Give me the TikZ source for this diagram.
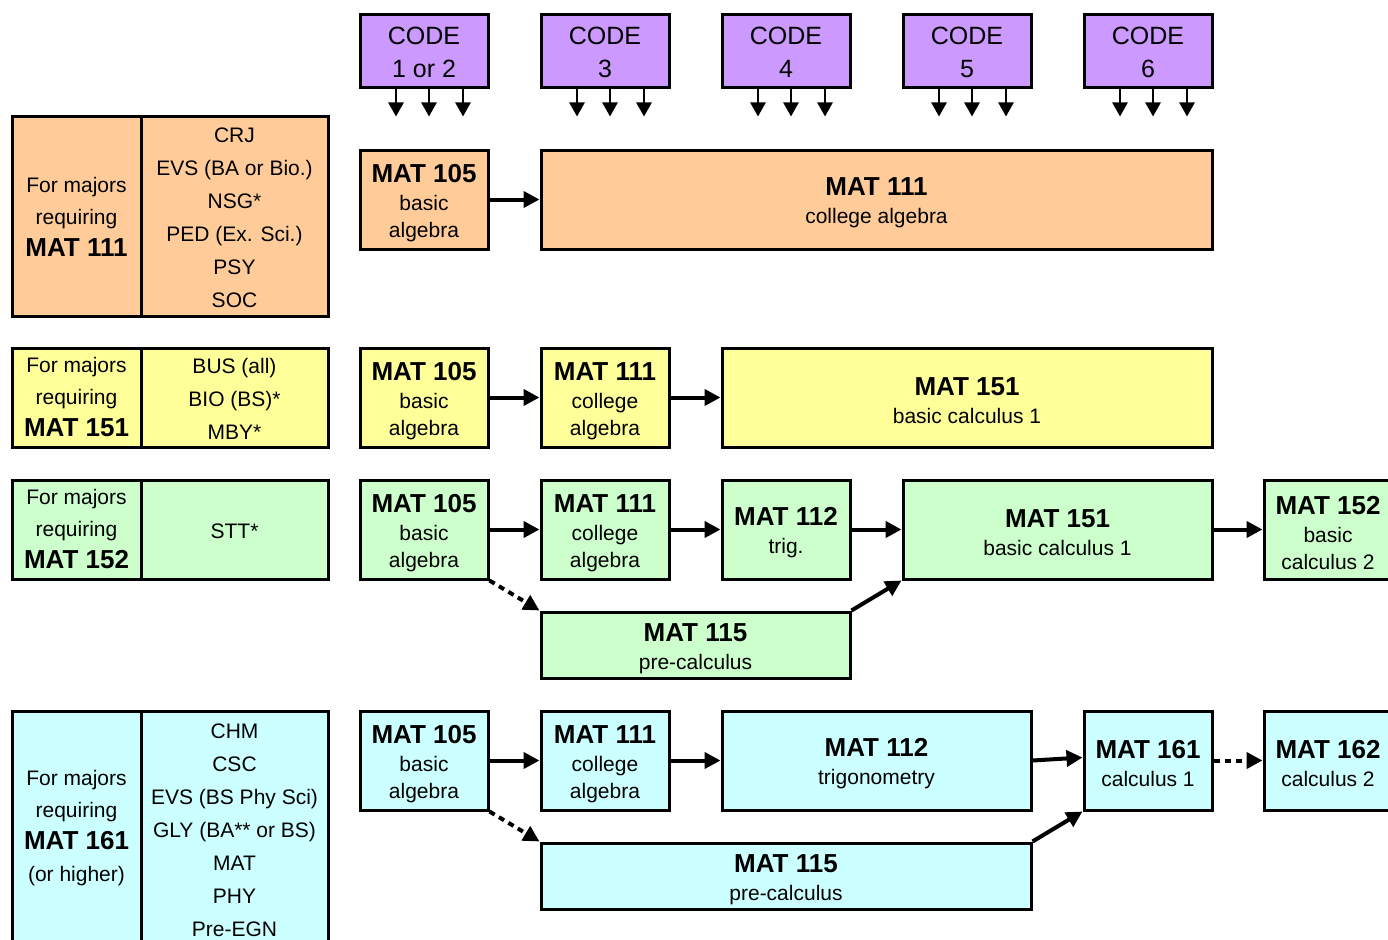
\documentclass[tikz,border=0pt]{standalone}
\usepackage{fontspec}
\setmainfont{Liberation Sans}
\usetikzlibrary{arrows.meta}
\definecolor{corange}{HTML}{FFCC99}
\definecolor{cyellow}{HTML}{FFFF99}
\definecolor{cgreen}{HTML}{CCFFCC}
\definecolor{ccyan}{HTML}{CCFFFF}
\definecolor{cpurple}{HTML}{CC99FF}
\newcommand\mb{\fontsize{26}{30}\selectfont\bfseries}
\newcommand\mkbox[8][boxtext]{%
  \node[cell, fill=#7, minimum width={#5-#3}, minimum height={#6-#4}] (#2) at ({(#3+#5)/2},{(#4+#6)/2}) {};
  \node[#1] (#2-t) at (#2.center) {#8};}
\begin{document}
\begin{tikzpicture}[x=1pt,y=-1pt,
  cell/.style={draw=black, line width=3pt, inner sep=0pt},
  boxtext/.style={inner sep=0pt, align=center, yshift=-3.5pt, font=\fontsize{21}{27}\selectfont},
  codetext/.style={inner sep=0pt, align=center, yshift=-1pt, font=\fontsize{25}{33}\selectfont},
  lefttext/.style={inner sep=0pt, align=center, font=\fontsize{21}{32}\selectfont},
  listtext/.style={inner sep=0pt, align=center, yshift=-1.5pt, font=\fontsize{21}{33}\selectfont},
  flow/.style={line width=4pt, -{Triangle[length=16pt,width=16pt]}},
  dflow/.style={flow, dash pattern=on 6pt off 5pt},
  codearrow/.style={line width=2.5pt, -{Triangle[length=14pt,width=15pt]}}]
\useasboundingbox (0,0) rectangle (1388,939);
\clip (0,0) rectangle (1388,939);
% code boxes
\mkbox[codetext]{c1}{360}{15}{488}{88}{cpurple}{CODE\\1 or 2}
\mkbox[codetext]{c2}{541}{15}{669}{88}{cpurple}{CODE\\3}
\mkbox[codetext]{c3}{722}{15}{850}{88}{cpurple}{CODE\\4}
\mkbox[codetext]{c4}{903}{15}{1031}{88}{cpurple}{CODE\\5}
\mkbox[codetext]{c5}{1084}{15}{1212}{88}{cpurple}{CODE\\6}
\foreach \c in {c1,c2,c3,c4,c5}
  \foreach \dx in {-28,5,39}
    \draw[codearrow] ([xshift=\dx pt]\c.south) -- ++(0,27);
% row 1
\mkbox[lefttext]{t1a}{12}{117}{141}{316}{corange}{For majors\\requiring\\{\mb MAT 111}}
\mkbox[listtext]{t1b}{141}{117}{328}{316}{corange}{CRJ\\EVS (BA or Bio.)\\NSG*\\PED (Ex. Sci.)\\PSY\\SOC}
\mkbox{r1a}{360}{150}{488}{249}{corange}{{\mb MAT 105}\\[1pt]basic\\algebra}
\mkbox{r1b}{541}{150}{1212}{249}{corange}{{\mb MAT 111}\\[1pt]college algebra}
\draw[flow] (r1a.east) -- (r1b.west);
% row 2
\mkbox[lefttext]{t2a}{12}{348}{141}{447}{cyellow}{For majors\\requiring\\{\mb MAT 151}}
\mkbox[listtext]{t2b}{141}{348}{328}{447}{cyellow}{BUS (all)\\BIO (BS)*\\MBY*}
\mkbox{r2a}{360}{348}{488}{447}{cyellow}{{\mb MAT 105}\\[1pt]basic\\algebra}
\mkbox{r2b}{541}{348}{669}{447}{cyellow}{{\mb MAT 111}\\[1pt]college\\algebra}
\mkbox{r2c}{722}{348}{1212}{447}{cyellow}{{\mb MAT 151}\\[1pt]basic calculus 1}
\draw[flow] (r2a.east) -- (r2b.west);
\draw[flow] (r2b.east) -- (r2c.west);
% row 3
\mkbox[lefttext]{t3a}{12}{480}{141}{579}{cgreen}{For majors\\requiring\\{\mb MAT 152}}
\mkbox[listtext]{t3b}{141}{480}{328}{579}{cgreen}{STT*}
\mkbox{r3a}{360}{480}{488}{579}{cgreen}{{\mb MAT 105}\\[1pt]basic\\algebra}
\mkbox{r3b}{541}{480}{669}{579}{cgreen}{{\mb MAT 111}\\[1pt]college\\algebra}
\mkbox{r3c}{722}{480}{850}{579}{cgreen}{{\mb MAT 112}\\[1pt]trig.}
\mkbox{r3d}{903}{480}{1212}{579}{cgreen}{{\mb MAT 151}\\[1pt]basic calculus 1}
\mkbox{r3e}{1264}{480}{1392}{579}{cgreen}{{\mb MAT 152}\\[1pt]basic\\calculus 2}
\mkbox{r3f}{541}{612}{850}{678}{cgreen}{{\mb MAT 115}\\[1pt]pre-calculus}
\draw[flow] (r3a.east) -- (r3b.west);
\draw[flow] (r3b.east) -- (r3c.west);
\draw[flow] (r3c.east) -- (r3d.west);
\draw[flow] (r3d.east) -- (r3e.west);
\draw[dflow] (r3a.south east) -- (r3f.north west);
\draw[flow] (r3f.north east) -- (r3d.south west);
% row 4
\mkbox[lefttext]{t4a}{12}{711}{141}{946}{ccyan}{For majors\\requiring\\{\mb MAT 161}\\(or higher)}
\mkbox[listtext]{t4b}{141}{711}{328}{946}{ccyan}{CHM\\CSC\\EVS (BS Phy Sci)\\GLY (BA** or BS)\\MAT\\PHY\\Pre-EGN}
\mkbox{r4a}{360}{711}{488}{810}{ccyan}{{\mb MAT 105}\\[1pt]basic\\algebra}
\mkbox{r4b}{541}{711}{669}{810}{ccyan}{{\mb MAT 111}\\[1pt]college\\algebra}
\mkbox{r4c}{722}{711}{1031}{810}{ccyan}{{\mb MAT 112}\\[1pt]trigonometry}
\mkbox{r4d}{1084}{711}{1212}{810}{ccyan}{{\mb MAT 161}\\[1pt]calculus 1}
\mkbox{r4e}{1264}{711}{1392}{810}{ccyan}{{\mb MAT 162}\\[1pt]calculus 2}
\mkbox{r4f}{541}{843}{1031}{909}{ccyan}{{\mb MAT 115}\\[1pt]pre-calculus}
\draw[flow] (r4a.east) -- (r4b.west);
\draw[flow] (r4b.east) -- (r4c.west);
\draw[flow] (r4c.east) -- ([yshift=3pt]r4d.west);
\draw[dflow] (r4d.east) -- (r4e.west);
\draw[dflow] (r4a.south east) -- (r4f.north west);
\draw[flow] (r4f.north east) -- (r4d.south west);
\end{tikzpicture}
\end{document}
